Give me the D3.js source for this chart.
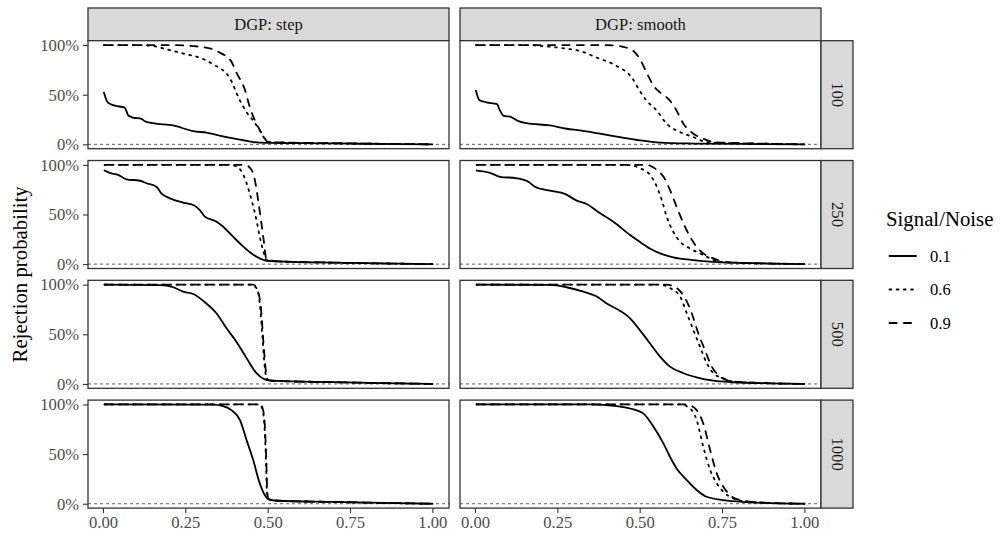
<!DOCTYPE html>
<html><head><meta charset="utf-8">
<script src="https://cdn.jsdelivr.net/npm/d3@7"></script>
<style>body{margin:0;background:#fff}svg{display:block;font-family:"Liberation Serif","Times New Roman",serif}</style>
</head><body><svg id="c" width="1000" height="537"></svg>
<script>
// ---- data ----
const dgps = ["step", "smooth"];
const sizes = ["100", "250", "500", "1000"];
const snrLevels = ["0.1", "0.6", "0.9"];
const xTicks = [0, 0.25, 0.5, 0.75, 1];
const xTickLabels = ["0.00", "0.25", "0.50", "0.75", "1.00"];
const yTicks = [0, 0.5, 1];
const yTickLabels = ["0%", "50%", "100%"];

// DGP step, n = 100
const step100_01 = [[0.003,0.52],[0.015,0.42],[0.036,0.39],[0.066,0.37],[0.077,0.29],[0.091,0.27],[0.117,0.257],[0.127,0.233],[0.152,0.213],[0.213,0.19],[0.274,0.133],[0.314,0.117],[0.375,0.073],[0.416,0.047],[0.456,0.023],[0.497,0.015],[0.6,0.012],[0.7,0.009],[0.8,0.006],[0.9,0.003],[1.0,0.0]];
const step100_06 = [[0.003,1.0],[0.1,1.0],[0.152,0.99],[0.193,0.957],[0.253,0.907],[0.294,0.873],[0.334,0.807],[0.385,0.667],[0.416,0.44],[0.436,0.323],[0.456,0.24],[0.476,0.14],[0.491,0.057],[0.5,0.023],[0.55,0.018],[0.7,0.011],[0.85,0.005],[1.0,0.0]];
const step100_09 = [[0.003,1.0],[0.2,1.0],[0.294,0.983],[0.334,0.957],[0.355,0.923],[0.39,0.833],[0.405,0.723],[0.43,0.557],[0.446,0.373],[0.466,0.207],[0.486,0.09],[0.5,0.025],[0.55,0.018],[0.7,0.011],[0.85,0.005],[1.0,0.0]];
// DGP smooth, n = 100
const smooth100_01 = [[0.003,0.54],[0.013,0.447],[0.035,0.423],[0.066,0.407],[0.076,0.34],[0.086,0.29],[0.111,0.273],[0.132,0.233],[0.157,0.213],[0.228,0.19],[0.278,0.157],[0.319,0.14],[0.38,0.107],[0.44,0.073],[0.5,0.04],[0.562,0.017],[0.663,0.008],[0.8,0.004],[1.0,0.0]];
const smooth100_06 = [[0.003,1.0],[0.15,1.0],[0.228,0.983],[0.278,0.963],[0.319,0.94],[0.37,0.873],[0.43,0.79],[0.476,0.673],[0.5,0.54],[0.521,0.44],[0.552,0.34],[0.582,0.207],[0.623,0.123],[0.663,0.073],[0.703,0.023],[0.75,0.015],[0.85,0.008],[1.0,0.0]];
const smooth100_09 = [[0.003,1.0],[0.4,1.0],[0.461,0.973],[0.481,0.94],[0.501,0.857],[0.521,0.723],[0.542,0.59],[0.562,0.523],[0.592,0.44],[0.612,0.34],[0.633,0.207],[0.663,0.107],[0.693,0.057],[0.724,0.023],[0.77,0.015],[0.87,0.007],[1.0,0.0]];
// DGP step, n = 250
const step250_01 = [[0.005,0.943],[0.02,0.92],[0.046,0.9],[0.071,0.855],[0.112,0.84],[0.132,0.815],[0.162,0.78],[0.177,0.714],[0.203,0.663],[0.243,0.62],[0.274,0.596],[0.294,0.545],[0.309,0.478],[0.345,0.427],[0.365,0.377],[0.395,0.276],[0.421,0.192],[0.451,0.108],[0.476,0.058],[0.497,0.034],[0.578,0.023],[0.7,0.015],[0.85,0.007],[1.0,0.0]];
const step250_06 = [[0.005,1.0],[0.385,1.0],[0.405,0.983],[0.421,0.933],[0.436,0.815],[0.451,0.646],[0.466,0.444],[0.476,0.276],[0.486,0.141],[0.497,0.04],[0.55,0.025],[0.7,0.015],[0.85,0.007],[1.0,0.0]];
const step250_09 = [[0.005,1.0],[0.431,1.0],[0.451,0.95],[0.461,0.848],[0.471,0.646],[0.481,0.41],[0.488,0.24],[0.497,0.04],[0.55,0.025],[0.7,0.015],[0.85,0.007],[1.0,0.0]];
// DGP smooth, n = 250
const smooth250_01 = [[0.005,0.943],[0.046,0.92],[0.076,0.88],[0.127,0.865],[0.162,0.83],[0.182,0.78],[0.228,0.74],[0.273,0.707],[0.309,0.64],[0.339,0.606],[0.38,0.512],[0.42,0.427],[0.471,0.293],[0.5,0.225],[0.531,0.158],[0.562,0.108],[0.602,0.068],[0.663,0.04],[0.724,0.023],[0.805,0.013],[0.9,0.006],[1.0,0.0]];
const smooth250_06 = [[0.005,1.0],[0.461,1.0],[0.501,0.966],[0.531,0.9],[0.552,0.78],[0.567,0.646],[0.582,0.478],[0.602,0.326],[0.623,0.225],[0.653,0.158],[0.683,0.108],[0.714,0.058],[0.744,0.023],[0.8,0.013],[0.9,0.006],[1.0,0.0]];
const smooth250_09 = [[0.005,1.0],[0.521,1.0],[0.552,0.95],[0.572,0.882],[0.592,0.747],[0.612,0.579],[0.633,0.41],[0.653,0.276],[0.673,0.175],[0.693,0.108],[0.724,0.058],[0.754,0.023],[0.8,0.013],[0.9,0.006],[1.0,0.0]];
// DGP step, n = 500
const step500_01 = [[0.005,1.0],[0.172,0.995],[0.213,0.974],[0.243,0.93],[0.274,0.906],[0.314,0.81],[0.345,0.71],[0.375,0.56],[0.405,0.426],[0.436,0.26],[0.466,0.108],[0.497,0.04],[0.527,0.03],[0.7,0.018],[0.85,0.008],[1.0,0.0]];
const step500_06 = [[0.005,1.0],[0.446,1.0],[0.466,0.966],[0.476,0.81],[0.484,0.476],[0.491,0.174],[0.498,0.04],[0.527,0.03],[0.7,0.018],[0.85,0.008],[1.0,0.0]];
const step500_09 = [[0.005,1.0],[0.456,1.0],[0.471,0.93],[0.481,0.71],[0.488,0.376],[0.497,0.074],[0.502,0.035],[0.527,0.03],[0.7,0.018],[0.85,0.008],[1.0,0.0]];
// DGP smooth, n = 500
const smooth500_01 = [[0.005,1.0],[0.228,0.997],[0.278,0.974],[0.329,0.93],[0.37,0.88],[0.4,0.81],[0.44,0.738],[0.471,0.661],[0.5,0.544],[0.531,0.41],[0.562,0.275],[0.592,0.174],[0.633,0.108],[0.673,0.067],[0.724,0.033],[0.784,0.017],[0.9,0.006],[1.0,0.0]];
const smooth500_06 = [[0.005,1.0],[0.562,1.0],[0.592,0.966],[0.623,0.88],[0.643,0.712],[0.663,0.544],[0.683,0.376],[0.704,0.208],[0.724,0.108],[0.754,0.057],[0.784,0.023],[0.85,0.012],[1.0,0.0]];
const smooth500_09 = [[0.005,1.0],[0.582,1.0],[0.612,0.966],[0.638,0.864],[0.658,0.712],[0.678,0.51],[0.698,0.342],[0.719,0.174],[0.744,0.074],[0.774,0.03],[0.85,0.012],[1.0,0.0]];
// DGP step, n = 1000
const step1000_01 = [[0.005,1.0],[0.334,0.998],[0.365,0.983],[0.39,0.943],[0.416,0.842],[0.436,0.641],[0.456,0.44],[0.476,0.205],[0.491,0.088],[0.502,0.047],[0.53,0.03],[0.7,0.018],[0.85,0.008],[1.0,0.0]];
const step1000_06 = [[0.005,1.0],[0.476,1.0],[0.486,0.923],[0.491,0.742],[0.495,0.406],[0.498,0.105],[0.502,0.045],[0.53,0.03],[0.7,0.018],[0.85,0.008],[1.0,0.0]];
const step1000_09 = [[0.005,1.0],[0.478,1.0],[0.487,0.93],[0.492,0.75],[0.496,0.41],[0.499,0.11],[0.503,0.045],[0.53,0.03],[0.7,0.018],[0.85,0.008],[1.0,0.0]];
// DGP smooth, n = 1000
const smooth1000_01 = [[0.005,1.0],[0.349,1.0],[0.43,0.983],[0.481,0.95],[0.511,0.91],[0.542,0.775],[0.572,0.608],[0.592,0.473],[0.612,0.356],[0.643,0.238],[0.673,0.138],[0.703,0.07],[0.754,0.037],[0.825,0.017],[0.9,0.007],[1.0,0.0]];
const smooth1000_06 = [[0.005,1.0],[0.623,1.0],[0.653,0.96],[0.673,0.842],[0.693,0.574],[0.714,0.34],[0.734,0.205],[0.754,0.121],[0.784,0.054],[0.805,0.03],[0.87,0.012],[1.0,0.0]];
const smooth1000_09 = [[0.005,1.0],[0.643,1.0],[0.673,0.943],[0.693,0.809],[0.714,0.541],[0.734,0.306],[0.754,0.171],[0.774,0.088],[0.805,0.037],[0.87,0.012],[1.0,0.0]];

const panelData = {
  step:   {"100":[step100_01,step100_06,step100_09], "250":[step250_01,step250_06,step250_09], "500":[step500_01,step500_06,step500_09], "1000":[step1000_01,step1000_06,step1000_09]},
  smooth: {"100":[smooth100_01,smooth100_06,smooth100_09], "250":[smooth250_01,smooth250_06,smooth250_09], "500":[smooth500_01,smooth500_06,smooth500_09], "1000":[smooth1000_01,smooth1000_06,smooth1000_09]}
};

// ---- layout ----
const svg = d3.select("#c");
const colLeft = [88, 460], panelW = 361;
const rowTop0 = 40.7, rowPitch = 119.8, panelH = 108;
const stripTop = 8;
const stripW = 32;
const lineW = 1.8;
const dashes = [null, `${lineW},${lineW*3}`, `${lineW*4},${lineW*4}`];

const x = d3.scaleLinear().domain([-0.0455, 1.0505]).range([0, panelW]);
const y = d3.scaleLinear().domain([-0.044, 1.044]).range([panelH, 0]);
const line = d3.line().x(d => x(d[0])).y(d => y(d[1])).curve(d3.curveMonotoneX);

dgps.forEach((dgp, ci) => {
  const px = colLeft[ci];
  // top strip
  const st = svg.append("g").attr("transform", `translate(${px},${stripTop})`);
  st.append("rect").attr("width", panelW).attr("height", rowTop0 - stripTop)
    .attr("fill", "#d9d9d9").attr("stroke", "#333").attr("stroke-width", 1.3);
  st.append("text").attr("x", panelW/2).attr("y", (rowTop0 - stripTop)/2 + 5.5)
    .attr("text-anchor", "middle").attr("font-size", 16.6).attr("fill", "#1a1a1a").text("DGP: " + dgp);

  sizes.forEach((n, ri) => {
    const py = rowTop0 + ri * rowPitch;
    const g = svg.append("g").attr("transform", `translate(${px},${py})`);
    g.append("rect").attr("width", panelW).attr("height", panelH).attr("fill", "#fff");
    // zero reference
    g.append("line").attr("x1", 0).attr("x2", panelW).attr("y1", y(0)).attr("y2", y(0))
      .attr("stroke", "#333").attr("stroke-width", 0.8).attr("stroke-dasharray", "3,3");
    panelData[dgp][n].forEach((ser, si) => {
      g.append("path").attr("d", line(ser)).attr("fill", "none").attr("stroke", "#000")
        .attr("stroke-width", lineW).attr("stroke-linecap", "round").attr("stroke-linejoin", "round")
        .attr("stroke-dasharray", dashes[si]);
    });
    g.append("rect").attr("width", panelW).attr("height", panelH).attr("fill", "none")
      .attr("stroke", "#333").attr("stroke-width", 1.3);

    if (ci === 0) {
      const ya = g.append("g").call(d3.axisLeft(y).tickValues(yTicks).tickFormat((d, i) => yTickLabels[i]).tickSize(5).tickPadding(4));
      ya.select(".domain").remove();
      ya.selectAll("line").attr("stroke", "#333").attr("stroke-width", 1.1);
      ya.selectAll("text").attr("font-family", "Liberation Serif").attr("font-size", 16.6).attr("fill", "#4d4d4d");
    }
    if (ri === sizes.length - 1) {
      const xa = g.append("g").attr("transform", `translate(0,${panelH})`)
        .call(d3.axisBottom(x).tickValues(xTicks).tickFormat((d, i) => xTickLabels[i]).tickSize(5).tickPadding(3));
      xa.select(".domain").remove();
      xa.selectAll("line").attr("stroke", "#333").attr("stroke-width", 1.1);
      xa.selectAll("text").attr("font-family", "Liberation Serif").attr("font-size", 16.6).attr("fill", "#4d4d4d");
    }
    if (ci === dgps.length - 1) {
      const rs = svg.append("g").attr("transform", `translate(${px + panelW},${py})`);
      rs.append("rect").attr("width", stripW).attr("height", panelH)
        .attr("fill", "#d9d9d9").attr("stroke", "#333").attr("stroke-width", 1.3);
      rs.append("text").attr("transform", `translate(${stripW/2 - 5.5},${panelH/2}) rotate(90)`)
        .attr("text-anchor", "middle").attr("font-size", 16.6).attr("fill", "#1a1a1a").text(n);
    }
  });
});

// y axis title
svg.append("text").attr("transform", `translate(27,${rowTop0 + (3*rowPitch + panelH)/2}) rotate(-90)`)
  .attr("text-anchor", "middle").attr("font-size", 20.8).attr("fill", "#000").text("Rejection probability");

// legend
const lg = svg.append("g").attr("transform", "translate(886,0)");
lg.append("text").attr("x", 0).attr("y", 226).attr("font-size", 20.8).text("Signal/Noise");
const keyY = [256, 289.5, 323];
snrLevels.forEach((s, i) => {
  lg.append("line").attr("x1", 3.5).attr("x2", 30).attr("y1", keyY[i]).attr("y2", keyY[i])
    .attr("stroke", "#000").attr("stroke-width", lineW).attr("stroke-linecap", "round")
    .attr("stroke-dasharray", dashes[i]);
  lg.append("text").attr("x", 44).attr("y", keyY[i] + 5.5).attr("font-size", 16.6).text(s);
});
</script></body></html>
